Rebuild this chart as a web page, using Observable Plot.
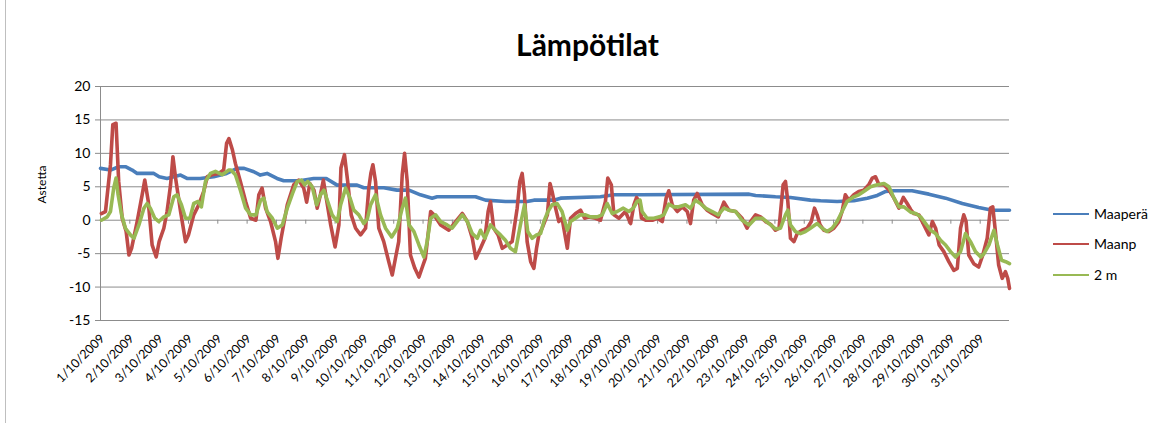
<!DOCTYPE html>
<html>
<head>
<meta charset="utf-8">
<script src="https://cdn.jsdelivr.net/npm/d3@7"></script>
<script src="https://cdn.jsdelivr.net/npm/@observablehq/plot@0.6"></script>
<style>
  html, body { margin: 0; padding: 0; background: #fff; }
  #wrap { position: relative; width: 1165px; height: 423px; overflow: hidden; font-family: Lato, "Liberation Sans", sans-serif; }
  #frame { position: absolute; left: 5px; top: 0; width: 1px; height: 423px; background: #bfbfbf; }
  #title { position: absolute; left: 0; width: 1175px; top: 29px; text-align: center; font-size: 30px; line-height: 30px; font-weight: bold; color: #000; }
  #chart { position: absolute; left: 0; top: 0; }
  .leg { position: absolute; left: 1053px; font-size: 14px; line-height: 14px; color: #000; }
  .leg span.sw { position: absolute; left: 0; top: 6px; width: 36px; height: 2px; }
  .leg span.tx { position: absolute; left: 41px; top: 0; white-space: nowrap; }
</style>
</head>
<body>
<div id="wrap">
  <div id="frame"></div>
  <div id="chart"></div>
  <div id="title">Lämpötilat</div>
  <div id="legend"></div>
</div>
<script>
// ---- data (x = days since 1/10/2009 00:00, y = °C) ----
const chartTitle = "Lämpötilat";
const yLabel = "Astetta";
const seriesNames = ["Maaperä", "Maanp", "2 m"];
const seriesColors = ["#4a7ebb", "#be4b48", "#98b954"];
const yTicks = [-15, -10, -5, 0, 5, 10, 15, 20];
const dateLabels = ["1/10/2009","2/10/2009","3/10/2009","4/10/2009","5/10/2009","6/10/2009","7/10/2009","8/10/2009","9/10/2009","10/10/2009","11/10/2009","12/10/2009","13/10/2009","14/10/2009","15/10/2009","16/10/2009","17/10/2009","18/10/2009","19/10/2009","20/10/2009","21/10/2009","22/10/2009","23/10/2009","24/10/2009","25/10/2009","26/10/2009","27/10/2009","28/10/2009","29/10/2009","30/10/2009","31/10/2009"];

const maapera = [[0,7.75],[0.34,7.5],[0.62,8.0],[0.85,8.0],[1.08,7.5],[1.25,7.0],[1.82,7.0],[2.0,6.5],[2.27,6.25],[2.5,6.5],[2.73,6.75],[2.95,6.25],[3.4,6.25],[3.86,6.5],[4.3,7.0],[4.66,7.75],[4.9,7.75],[5.23,7.25],[5.45,6.75],[5.68,7.0],[6.02,6.25],[6.25,5.9],[6.8,5.9],[7.27,6.25],[7.7,6.25],[8.07,5.25],[8.75,5.25],[8.98,4.85],[9.66,4.85],[10.11,4.5],[10.52,4.5],[10.91,3.8],[11.31,3.3],[11.48,3.5],[12.79,3.5],[13.13,3.0],[13.81,2.8],[14.55,2.8],[14.78,3.0],[15.46,3.0],[15.69,3.3],[17.05,3.5],[17.51,3.8],[18.42,3.8],[22.12,3.9],[22.34,3.7],[23.02,3.5],[23.53,3.4],[24.21,3.0],[24.56,2.9],[25.12,2.8],[25.69,2.9],[26.15,3.3],[26.49,3.7],[26.78,4.3],[27.06,4.4],[27.68,4.4],[28.25,3.9],[28.82,3.3],[29.39,2.5],[29.95,1.9],[30.41,1.5],[31.0,1.5]];

const maanp = [[0.03,1.0],[0.17,1.3],[0.34,8.3],[0.42,14.3],[0.53,14.5],[0.62,5.8],[0.74,0.3],[0.875,-1.7],[0.97,-5.2],[1.06,-4.2],[1.25,-0.2],[1.42,3.8],[1.51,6.0],[1.63,2.8],[1.76,-3.7],[1.9,-5.5],[2.0,-3.2],[2.16,-1.2],[2.27,1.3],[2.39,5.3],[2.47,9.5],[2.56,6.3],[2.73,1.3],[2.9,-3.2],[3.0,-2.2],[3.18,0.8],[3.35,2.3],[3.52,4.3],[3.64,6.5],[3.8,6.8],[4.03,7.0],[4.2,7.5],[4.3,11.5],[4.38,12.2],[4.5,10.5],[4.6,8.5],[4.77,5.8],[4.95,2.8],[5.12,0.3],[5.3,0],[5.4,3.8],[5.51,4.8],[5.63,1.8],[5.8,-0.2],[5.97,-3.2],[6.05,-5.7],[6.16,-2.7],[6.37,2.3],[6.59,5.3],[6.76,6.0],[6.93,4.8],[7.03,2.7],[7.14,5.5],[7.28,4.5],[7.39,1.8],[7.5,3.8],[7.6,6.0],[7.7,3.3],[7.85,-0.7],[8.0,-4.0],[8.13,-0.7],[8.2,7.8],[8.32,9.8],[8.43,5.8],[8.55,0.8],[8.7,-1.2],[8.87,-2.2],[9.04,-1.2],[9.15,4.8],[9.22,7.0],[9.29,8.3],[9.38,5.8],[9.49,-1.2],[9.66,-3.2],[9.83,-6.2],[9.95,-8.2],[10.08,-5.2],[10.17,-3.2],[10.29,6.8],[10.37,10.0],[10.46,5.8],[10.57,-5.2],[10.72,-7.2],[10.86,-8.5],[11.0,-6.7],[11.08,-5.7],[11.26,1.3],[11.37,0.8],[11.6,-0.7],[11.88,-1.5],[12.11,-0.2],[12.34,1.0],[12.51,-0.2],[12.68,-2.7],[12.8,-5.7],[12.96,-4.2],[13.11,-2.7],[13.22,1.3],[13.3,2.8],[13.41,-1.2],[13.56,-2.2],[13.7,-4.2],[13.87,-3.7],[14.04,-3.2],[14.21,1.8],[14.3,5.8],[14.38,7.0],[14.46,3.8],[14.55,-3.2],[14.67,-6.2],[14.78,-7.2],[14.87,-4.2],[14.95,-2.2],[15.06,-1.2],[15.24,0.8],[15.33,5.5],[15.4,4.3],[15.52,1.8],[15.63,-0.2],[15.74,0.3],[15.92,-4.2],[16.03,0.3],[16.2,1.0],[16.37,1.5],[16.51,0.3],[16.66,0.5],[16.88,0.3],[17.05,0],[17.22,2.8],[17.3,6.3],[17.42,5.3],[17.51,0.8],[17.68,0.3],[17.9,1.3],[18.08,-0.5],[18.19,2.3],[18.28,3.4],[18.38,2.8],[18.45,0.3],[18.59,0],[18.82,0],[18.99,0.3],[19.16,-0.2],[19.29,3.3],[19.38,4.4],[19.5,2.3],[19.67,1.3],[19.84,2.0],[20.01,1.3],[20.12,-0.5],[20.23,3.0],[20.35,4.0],[20.52,2.3],[20.69,1.5],[20.86,1.0],[21.07,0.5],[21.26,2.7],[21.43,1.5],[21.66,1.3],[21.88,0.3],[22.05,-1.2],[22.17,-0.2],[22.34,0.8],[22.51,0.5],[22.68,-0.2],[22.85,-0.6],[23.02,-1.5],[23.14,-1.2],[23.28,5.3],[23.36,5.8],[23.44,2.8],[23.53,-2.7],[23.65,-3.2],[23.76,-2.0],[23.93,-1.5],[24.1,-1.2],[24.24,-0.2],[24.35,1.8],[24.44,0.8],[24.54,-0.7],[24.67,-1.5],[24.84,-1.7],[25.01,-1.2],[25.18,-0.2],[25.29,1.3],[25.4,3.8],[25.52,3.0],[25.69,3.8],[25.86,4.3],[26.03,4.5],[26.2,5.3],[26.32,6.3],[26.43,6.5],[26.55,5.3],[26.72,5.3],[26.89,4.5],[27.06,3.3],[27.23,1.8],[27.38,3.4],[27.51,2.5],[27.63,1.6],[27.74,1.0],[27.91,0.8],[28.08,-0.7],[28.25,-2.2],[28.37,-0.2],[28.48,-1.2],[28.6,-3.7],[28.76,-4.7],[28.93,-6.2],[29.1,-7.5],[29.22,-7.2],[29.33,-1.2],[29.44,0.8],[29.52,-0.2],[29.61,-5.2],[29.78,-6.5],[29.95,-7.0],[30.09,-5.2],[30.24,-2.7],[30.35,1.8],[30.43,2.0],[30.52,-1.7],[30.63,-6.7],[30.75,-8.7],[30.86,-7.7],[30.94,-8.7],[31.0,-10.2]];

const kaksiM = [[0.03,0],[0.23,0.5],[0.34,1.3],[0.45,4.8],[0.53,6.3],[0.6,3.8],[0.72,0.8],[0.85,-1.2],[1.02,-2.2],[1.14,-2.7],[1.31,-0.7],[1.48,1.8],[1.59,2.5],[1.7,1.8],[1.85,0.3],[1.99,-0.2],[2.16,0.5],[2.33,0.8],[2.5,3.5],[2.61,3.8],[2.76,2.3],[2.9,0.3],[3.05,0.3],[3.18,2.5],[3.33,2.8],[3.44,2.0],[3.58,5.8],[3.75,7.0],[3.92,7.3],[4.15,6.8],[4.38,7.5],[4.45,7.5],[4.6,6.8],[4.77,4.5],[4.95,1.8],[5.12,0.8],[5.3,0.8],[5.46,3.0],[5.57,3.3],[5.68,1.3],[5.86,0.3],[6.03,-1.2],[6.2,-0.7],[6.37,1.8],[6.55,4.0],[6.71,5.8],[6.85,6.0],[6.96,5.3],[7.07,5.8],[7.22,5.0],[7.37,2.3],[7.5,3.8],[7.62,4.5],[7.75,2.8],[7.9,0.8],[8.07,-0.2],[8.19,2.3],[8.36,4.8],[8.51,3.3],[8.64,1.5],[8.81,0.8],[8.98,-0.5],[9.1,0.2],[9.21,2.3],[9.38,3.8],[9.55,0.8],[9.72,-1.2],[9.93,-2.5],[10.12,-1.2],[10.29,1.8],[10.4,3.3],[10.52,-0.7],[10.69,-1.7],[10.86,-3.7],[11.03,-5.5],[11.14,-3.2],[11.26,0.3],[11.43,0.8],[11.6,-0.2],[11.82,-0.7],[11.99,-1.2],[12.16,-0.2],[12.34,0.8],[12.51,-0.2],[12.68,-2.0],[12.85,-2.7],[12.96,-1.5],[13.11,-2.7],[13.3,-0.7],[13.47,-1.5],[13.64,-2.2],[13.81,-3.0],[13.98,-4.2],[14.15,-4.7],[14.32,-0.7],[14.46,2.3],[14.57,-1.7],[14.72,-2.7],[14.87,-2.2],[15.01,-2.0],[15.12,-0.2],[15.26,1.3],[15.4,2.3],[15.57,2.5],[15.74,1.3],[15.92,-1.5],[16.03,-0.2],[16.2,0.3],[16.37,0.8],[16.54,0.8],[16.71,0.5],[16.94,0.5],[17.11,0.8],[17.28,2.5],[17.45,1.0],[17.62,1.3],[17.83,1.8],[18.02,1.3],[18.17,1.8],[18.3,2.8],[18.4,3.0],[18.47,1.3],[18.64,0.3],[18.87,0.3],[19.06,0.5],[19.21,0.8],[19.38,2.4],[19.55,2.0],[19.72,2.0],[19.95,2.3],[20.12,1.8],[20.29,3.0],[20.46,2.5],[20.63,1.8],[20.86,1.3],[21.07,0.8],[21.26,1.8],[21.43,1.5],[21.66,1.3],[21.88,0],[22.12,-0.7],[22.34,0.3],[22.57,0.3],[22.8,-0.5],[23.02,-1.3],[23.19,-1.2],[23.36,0.8],[23.44,1.5],[23.53,-0.7],[23.7,-1.7],[23.87,-2.0],[24.04,-1.7],[24.21,-1.2],[24.44,-0.5],[24.61,-1.2],[24.78,-1.7],[24.95,-1.2],[25.12,-0.2],[25.29,1.3],[25.46,2.8],[25.69,3.5],[25.86,3.8],[26.03,4.3],[26.26,5.0],[26.49,5.3],[26.72,5.5],[26.89,5.0],[27.06,3.3],[27.23,2.0],[27.4,2.0],[27.63,1.2],[27.8,1.0],[27.97,0.5],[28.14,-0.5],[28.31,-1.5],[28.48,-2.0],[28.65,-3.0],[28.82,-3.7],[28.99,-4.7],[29.16,-5.5],[29.33,-4.7],[29.5,-2.0],[29.67,-3.2],[29.84,-4.7],[30.02,-5.5],[30.13,-5.0],[30.3,-3.7],[30.47,-1.5],[30.59,-3.7],[30.73,-6.0],[30.87,-6.2],[31.0,-6.5]];

const seriesData = [maapera, maanp, kaksiM];

// ---- chart ----
const gridColor = "#8c8c8c";
const dayIndex = dateLabels.map((d, i) => i);

const lineMarks = seriesData.map((s, k) => Plot.line(s, {
  x: d => d[0], y: d => d[1],
  stroke: seriesColors[k], strokeWidth: 3.6, strokeLinejoin: "round", strokeLinecap: "round"
}));

const chart = Plot.plot({
  width: 1165, height: 423,
  marginTop: 86, marginBottom: 103, marginLeft: 100, marginRight: 156,
  style: { fontFamily: "Lato, 'Liberation Sans', sans-serif", color: "#000", background: "transparent", overflow: "visible" },
  x: { domain: [0, 31], axis: null },
  y: { domain: [-15, 20], axis: null },
  marks: [
    Plot.ruleY(yTicks, { stroke: gridColor, strokeWidth: 1, insetLeft: -5 }),
    Plot.ruleX([0], { stroke: gridColor, strokeWidth: 1 }),
    Plot.ruleX(dayIndex.slice(1), { x: d => d, y1: 0, y2: 0, insetBottom: -4, stroke: gridColor }),
    Plot.text(yTicks, { y: d => d, frameAnchor: "left", dx: -10, textAnchor: "end", text: d => String(d), fontSize: 14, fill: "#000" }),
    Plot.text([yLabel], { frameAnchor: "left", dx: -58, rotate: -90, text: d => d, fontSize: 12, fill: "#000" }),
    ...lineMarks,
    Plot.text(dateLabels, { x: (d, i) => i, frameAnchor: "bottom", text: d => d, rotate: -45, textAnchor: "end", lineAnchor: "middle", dx: 2, dy: 16, fontSize: 12.5, fill: "#000" })
  ]
});
document.getElementById("chart").appendChild(chart);

// legend
const legend = document.getElementById("legend");
const legendTops = [207, 237, 268];
seriesNames.forEach((name, k) => {
  const el = document.createElement("div");
  el.className = "leg";
  el.style.top = legendTops[k] + "px";
  el.innerHTML = `<span class="sw" style="background:${seriesColors[k]}"></span><span class="tx">${name}</span>`;
  legend.appendChild(el);
});
document.getElementById("title").textContent = chartTitle;
</script>
</body>
</html>
